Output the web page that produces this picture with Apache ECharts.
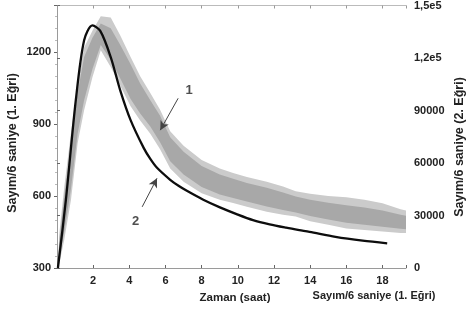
<!DOCTYPE html>
<html><head><meta charset="utf-8">
<script src="https://cdn.jsdelivr.net/npm/echarts@6/dist/echarts.min.js"></script>
<style>html,body{margin:0;padding:0;background:#fff}#c{width:468px;height:311px}</style>
</head><body><div id="c"></div>
<script>
// Curve 1 (grey noisy band): time and envelope values (left axis units)
var bandTime  = [0.05,0.13,0.4,0.77,1.14,1.5,1.96,2.42,2.97,3.5,4.07,4.6,5.16,5.7,6.26,7.0,8.0,9.0,9.74,10.5,11.6,12.5,13.2,14.0,15.0,16.0,17.0,18.0,19.0,19.3];
var outerLow  = [300,320,417,583,820,958,1096,1208,1138,1060,975,915,860,795,715,660,612,585,571,555,535,522,515,495,480,465,458,452,446,446];
var outerHigh = [300,446,637,862,1070,1220,1290,1350,1345,1270,1180,1100,1030,960,870,810,750,715,696,680,660,640,620,610,600,595,585,570,545,540];
var coreLow   = [300,340,450,630,860,1000,1130,1230,1170,1090,1005,945,890,825,745,690,638,607,592,577,557,542,532,517,502,489,480,472,464,462];
var coreHigh  = [300,420,600,820,1030,1180,1260,1320,1300,1230,1150,1070,1000,935,845,785,725,690,672,655,635,615,598,585,572,562,552,540,522,518];
// Curve 2 (black line)
var lineTime  = [0.05,0.49,1.04,1.5,1.96,2.4,2.97,3.5,4.07,4.8,5.16,5.53,6.26,6.72,7.18,8.09,9.01,9.93,10.84,11.76,12.67,13.4,13.96,15.4,16.9,18.26];
var lineValue = [300,583,1000,1250,1312,1288,1180,1040,917,800,755,718,668,643,622,585,553,525,500,482,468,458,451,430,414,403];
// Axis ticks
var xTicks = [2,4,6,8,10,12,14,16,18];
var leftTicks = [300,600,900,1200];
var rightTicks = [0,30000,60000,90000,120000,150000];
// Annotations (data coords)
var annoLabels = [{name:'1', at:[7.3,1040]},{name:'2', at:[4.35,495]}];
var annoArrows = [[[6.7,1008],[5.71,875]],[[4.71,555],[5.53,674]]];

function pairs(t, v){ return t.map(function(x,i){ return [x, v[i]]; }); }

function bandPolygon(api, lo, hi){
  var pts = [];
  for (var i=0;i<bandTime.length;i++) pts.push(api.coord([bandTime[i], hi[i]]));
  for (var j=bandTime.length-1;j>=0;j--) pts.push(api.coord([bandTime[j], lo[j]]));
  return pts;
}

var chart = echarts.init(document.getElementById('c'), null, {renderer:'canvas'});
var lblFont = {fontFamily:'Liberation Sans, Arial, sans-serif', fontWeight:'bold', fontSize:11, color:'#222'};
var axisGrey = '#9a9a9a';
var titleFont = 'bold 12.5px "Liberation Sans", Arial, sans-serif';

var opt = {
  animation:false,
  grid:{left:57, right:62, top:5, bottom:43},
  xAxis:[{
    type:'value', min:0, max:19.3, interval:2, position:'bottom',
    axisLine:{lineStyle:{color:axisGrey, width:1}},
    axisTick:{inside:true, length:3, lineStyle:{color:'#666'}},
    splitLine:{show:false},
    axisLabel:Object.assign({margin:7, formatter:function(v){ return xTicks.indexOf(v)>=0 ? String(v) : ''; }}, lblFont)
  },{
    type:'value', min:0, max:19.3, interval:2, position:'top',
    axisLine:{lineStyle:{color:'#bbb', width:1}},
    axisTick:{inside:true, length:3, lineStyle:{color:'#999'}},
    splitLine:{show:false}, axisLabel:{show:false}
  }],
  yAxis:[{
    type:'value', min:300, max:1395, interval:300, position:'left',
    axisLine:{show:true, lineStyle:{color:axisGrey, width:1}},
    axisTick:{show:true, length:3, lineStyle:{color:'#666'}},
    minorTick:{show:true, splitNumber:6, length:2, lineStyle:{color:'#bbb'}},
    splitLine:{show:false},
    axisLabel:Object.assign({margin:6, formatter:function(v){ return leftTicks.indexOf(v)>=0 ? String(v) : ''; }}, lblFont)
  },{
    type:'value', min:0, max:150000, interval:30000, position:'right',
    axisLine:{show:true, lineStyle:{color:axisGrey, width:1}},
    axisTick:{show:true, length:3, lineStyle:{color:'#666'}},
    splitLine:{show:false},
    axisLabel:Object.assign({margin:8, formatter:function(v){
      if (rightTicks.indexOf(v)<0) return '';
      if (v>=100000) return (v/100000).toFixed(1).replace('.',',')+'e5';
      return String(v);
    }}, lblFont)
  }],
  series:[
    {type:'custom', silent:true, z:1, clip:true,
      data:[[bandTime[0], outerLow[0]]],
      renderItem:function(params, api){
        return {type:'group', children:[
          {type:'polygon', shape:{points:bandPolygon(api, outerLow, outerHigh)}, style:{fill:'#cbcbcb'}},
          {type:'polygon', shape:{points:bandPolygon(api, coreLow, coreHigh)}, style:{fill:'#a8a8a8'}}
        ]};
      }
    },
    {type:'line', data:pairs(lineTime, lineValue), smooth:0.3, showSymbol:false, symbol:'none',
      lineStyle:{color:'#0d0d0d', width:2.3}, z:5,
      markLine:{silent:true, symbol:['none','arrow'], symbolSize:[7,9],
        lineStyle:{color:'#444', width:1, type:'solid'}, label:{show:false},
        data:annoArrows.map(function(a){ return [{coord:a[0]},{coord:a[1]}]; })}
    },
    {type:'scatter', symbolSize:0, z:6,
      data:annoLabels.map(function(a){ return {name:a.name, value:a.at}; }),
      label:{show:true, position:'inside', formatter:'{b}', fontFamily:'Liberation Sans, Arial, sans-serif', fontWeight:'bold', fontSize:13, color:'#222'}}
  ],
  graphic:[
    {type:'text', x:12.5, y:143, rotation:Math.PI/2, style:{text:'Sayım/6 saniye (1. Eğri)', align:'center', verticalAlign:'middle', font:titleFont, fill:'#222'}},
    {type:'text', x:460, y:147, rotation:Math.PI/2, style:{text:'Sayım/6 saniye (2. Eğri)', align:'center', verticalAlign:'middle', font:titleFont, fill:'#222'}},
    {type:'text', x:235, y:298, style:{text:'Zaman (saat)', align:'center', verticalAlign:'middle', font:'bold 11.5px "Liberation Sans", Arial, sans-serif', fill:'#222'}},
    {type:'text', x:374, y:296, style:{text:'Sayım/6 saniye (1. Eğri)', align:'center', verticalAlign:'middle', font:'bold 11px "Liberation Sans", Arial, sans-serif', fill:'#222'}}
  ]
};
chart.setOption(opt);
</script></body></html>
